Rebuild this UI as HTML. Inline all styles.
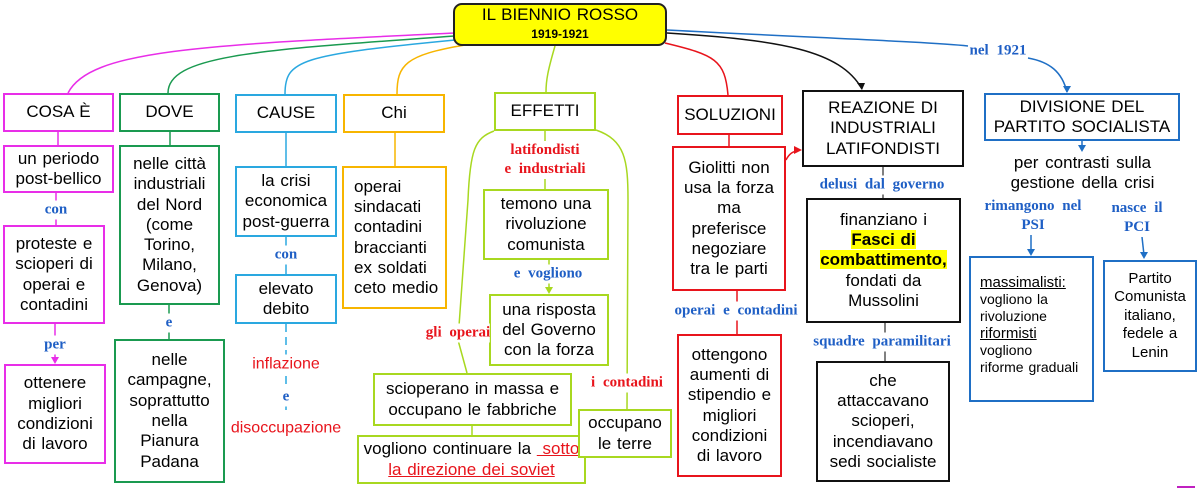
<!DOCTYPE html>
<html><head><meta charset="utf-8"><style>
body{margin:0;width:1200px;height:489px;background:#fff;position:relative;overflow:hidden;font-family:"Liberation Sans",sans-serif;}
.b{position:absolute;box-sizing:border-box;border:2px solid;background:#fff;display:flex;align-items:center;justify-content:center;text-align:center;font-size:17px;line-height:20.3px;color:#000;white-space:nowrap;word-spacing:1px}
.l{position:absolute;font-family:"Liberation Serif",serif;font-weight:bold;font-size:15px;white-space:nowrap;transform:translate(-50%,-50%);text-align:center;line-height:19px;background:#fff;word-spacing:4px}
.bl{color:#1f5fc5}.rd{color:#e8141c}
svg{position:absolute;left:0;top:0}
.m{border-color:#e82ee8}.g{border-color:#1a9a50}.c{border-color:#2aa8e0}.o{border-color:#f7b500}.y{border-color:#a8d820}.r{border-color:#e8141c}.k{border-color:#111}.u{border-color:#1f6fc5}
</style></head><body>
<svg width="1200" height="489" fill="none" stroke-width="1.5">
<path d="M455,33 C200,45 90,50 68,93" stroke="#e82ee8"/>
<path d="M455,36 C260,50 168,55 168,93" stroke="#1a9a50"/>
<path d="M455,40 C300,55 285,60 285,94" stroke="#2aa8e0"/>
<path d="M465,45 C405,55 397,65 397,94" stroke="#f7b500"/>
<path d="M555,46 C548,70 546,80 546,92" stroke="#a8d820"/>
<path d="M665,43 C715,55 725,60 728,95" stroke="#e8141c"/>
<path d="M667,33 C780,40 840,50 862,89" stroke="#111"/>
<path d="M862,90 l-5,-7 l8,0z" fill="#111" stroke="none"/>
<path d="M667,30 C820,38 930,42 968,46" stroke="#1f6fc5"/>
<path d="M1028,58 C1050,62 1062,72 1067,92" stroke="#1f6fc5"/>
<path d="M1067,93 l-4,-7 l8,0z" fill="#1f6fc5" stroke="none"/>
<g stroke="#e82ee8"><line x1="58" y1="132" x2="58" y2="145"/><line x1="56" y1="193" x2="56" y2="225"/><line x1="55" y1="324" x2="55" y2="360"/></g>
<path d="M55,364 l-4,-7 l8,0z" fill="#e82ee8"/>
<g stroke="#1a9a50"><line x1="170" y1="132" x2="170" y2="145"/><line x1="169" y1="305" x2="169" y2="339"/></g>
<g stroke="#2aa8e0"><line x1="286" y1="133" x2="286" y2="166"/><line x1="286" y1="237" x2="286" y2="274"/><line x1="286" y1="324" x2="286" y2="415" stroke-dasharray="8,5"/></g>
<line x1="395" y1="133" x2="395" y2="166" stroke="#f7b500"/>
<g stroke="#a8d820"><line x1="545" y1="131" x2="545" y2="189"/><line x1="549" y1="260" x2="549" y2="290"/>
<path d="M494,131 C475,138 470,150 468,200 L458,340 L467,373"/><path d="M596,130 C625,140 628,160 628,200 L627,409"/>
<line x1="472" y1="426" x2="472" y2="435"/></g>
<path d="M549,294 l-4,-7 l8,0z" fill="#a8d820"/>
<g stroke="#e8141c"><line x1="729" y1="135" x2="729" y2="146"/><line x1="737" y1="291" x2="737" y2="334"/><path d="M786,160 C790,152 795,151 798,151"/></g>
<path d="M802,150 l-8,-4 l0,8z" fill="#e8141c"/>
<g stroke="#555"><line x1="883" y1="167" x2="883" y2="198"/><line x1="885" y1="323" x2="885" y2="361"/></g>
<g stroke="#1f6fc5"><line x1="1082" y1="141" x2="1082" y2="148"/><line x1="1031" y1="235" x2="1031" y2="252"/><line x1="1142" y1="237" x2="1144" y2="255"/></g>
<path d="M1082,152 l-4,-7 l8,0z" fill="#1f6fc5"/>
<path d="M1031,256 l-4,-7 l8,0z" fill="#1f6fc5"/>
<path d="M1144,259 l-4,-7 l8,0z" fill="#1f6fc5"/>
<line x1="1177" y1="487" x2="1195" y2="487" stroke="#c020c0" stroke-width="2"/>
</svg>
<div class="b" style="left:453px;top:3px;width:214px;height:43px;background:#ffff00;border-color:#222;border-radius:9px"><div style="line-height:18px"><span style="font-size:17px">IL BIENNIO ROSSO</span><br><span style="font-size:12px;font-weight:bold">1919-1921</span></div></div>
<div class="b m" style="left:3px;top:93px;width:111px;height:39px"><div>COSA È</div></div>
<div class="b m" style="left:3px;top:145px;width:111px;height:48px"><div>un periodo<br>post-bellico</div></div>
<div class="b m" style="left:3px;top:225px;width:102px;height:99px"><div>proteste e<br>scioperi di<br>operai e<br>contadini</div></div>
<div class="b m" style="left:4px;top:364px;width:102px;height:100px"><div>ottenere<br>migliori<br>condizioni<br>di lavoro</div></div>
<div class="b g" style="left:119px;top:93px;width:101px;height:39px"><div>DOVE</div></div>
<div class="b g" style="left:119px;top:145px;width:101px;height:160px"><div>nelle città<br>industriali<br>del Nord<br>(come<br>Torino,<br>Milano,<br>Genova)</div></div>
<div class="b g" style="left:114px;top:339px;width:111px;height:144px"><div>nelle<br>campagne,<br>soprattutto<br>nella<br>Pianura<br>Padana</div></div>
<div class="b c" style="left:235px;top:94px;width:102px;height:39px"><div>CAUSE</div></div>
<div class="b c" style="left:235px;top:166px;width:102px;height:71px"><div>la crisi<br>economica<br>post-guerra</div></div>
<div class="b c" style="left:235px;top:274px;width:102px;height:50px"><div>elevato<br>debito</div></div>
<div class="b o" style="left:343px;top:94px;width:102px;height:39px"><div>Chi</div></div>
<div class="b o" style="left:342px;top:166px;width:105px;height:143px;justify-content:flex-start;padding-left:10px;text-align:left"><div>operai<br>sindacati<br>contadini<br>braccianti<br>ex soldati<br>ceto medio</div></div>
<div class="b y" style="left:494px;top:92px;width:102px;height:39px"><div>EFFETTI</div></div>
<div class="b y" style="left:483px;top:189px;width:126px;height:71px"><div>temono una<br>rivoluzione<br>comunista</div></div>
<div class="b y" style="left:489px;top:294px;width:120px;height:72px"><div>una risposta<br>del Governo<br>con la forza</div></div>
<div class="b y" style="left:373px;top:373px;width:199px;height:53px"><div>scioperano in massa e<br>occupano le fabbriche</div></div>
<div class="b y" style="left:357px;top:435px;width:229px;height:49px"><div>vogliono continuare la <span style="color:#e8141c;text-decoration:underline">&nbsp;sotto</span><br><span style="color:#e8141c;text-decoration:underline">la direzione dei soviet</span></div></div>
<div class="b y" style="left:578px;top:409px;width:94px;height:49px"><div>occupano<br>le terre</div></div>
<div class="b r" style="left:677px;top:95px;width:106px;height:40px"><div>SOLUZIONI</div></div>
<div class="b r" style="left:672px;top:146px;width:114px;height:145px"><div>Giolitti non<br>usa la forza<br>ma<br>preferisce<br>negoziare<br>tra le parti</div></div>
<div class="b r" style="left:677px;top:334px;width:105px;height:143px"><div>ottengono<br>aumenti di<br>stipendio e<br>migliori<br>condizioni<br>di lavoro</div></div>
<div class="b k" style="left:802px;top:90px;width:162px;height:77px"><div>REAZIONE DI<br>INDUSTRIALI<br>LATIFONDISTI</div></div>
<div class="b k" style="left:806px;top:198px;width:155px;height:125px"><div>finanziano i<br><b style="background:#ffff00">Fasci di</b><br><b style="background:#ffff00">combattimento,</b><br>fondati da<br>Mussolini</div></div>
<div class="b k" style="left:816px;top:361px;width:134px;height:121px"><div>che<br>attaccavano<br>scioperi,<br>incendiavano<br>sedi socialiste</div></div>
<div class="b u" style="left:984px;top:93px;width:196px;height:48px"><div>DIVISIONE DEL<br>PARTITO SOCIALISTA</div></div>
<div style="position:absolute;left:990px;top:153px;width:185px;text-align:center;font-size:17px;line-height:20px;word-spacing:2px">per contrasti sulla<br>gestione della crisi</div>
<div class="b u" style="left:969px;top:256px;width:125px;height:146px;display:block;text-align:left;padding:16px 0 0 9px;font-size:14px;line-height:17px;word-spacing:1px"><span style="text-decoration:underline;font-size:15px">massimalisti:</span><br>vogliono la<br>rivoluzione<br><span style="text-decoration:underline;font-size:15px">riformisti</span><br>vogliono<br>riforme graduali</div>
<div class="b u" style="left:1103px;top:260px;width:94px;height:112px"><div style="font-size:15px;line-height:18.5px">Partito<br>Comunista<br>italiano,<br>fedele a<br>Lenin</div></div>
<div class="l bl" style="left:56px;top:210px">con</div>
<div class="l bl" style="left:55px;top:345px">per</div>
<div class="l bl" style="left:169px;top:323px">e</div>
<div class="l bl" style="left:286px;top:255px">con</div>
<div class="l rd" style="left:286px;top:364px;font-family:'Liberation Sans',sans-serif;font-weight:normal;font-size:16px;word-spacing:0">inflazione</div>
<div class="l bl" style="left:286px;top:397px">e</div>
<div class="l rd" style="left:286px;top:428px;font-family:'Liberation Sans',sans-serif;font-weight:normal;font-size:16px;word-spacing:0">disoccupazione</div>
<div class="l rd" style="left:545px;top:160px">latifondisti<br>e industriali</div>
<div class="l bl" style="left:548px;top:274px">e vogliono</div>
<div class="l rd" style="left:458px;top:333px">gli operai</div>
<div class="l rd" style="left:627px;top:383px">i contadini</div>
<div class="l bl" style="left:736px;top:311px">operai e contadini</div>
<div class="l bl" style="left:882px;top:185px">delusi dal governo</div>
<div class="l bl" style="left:882px;top:342px">squadre paramilitari</div>
<div class="l bl" style="left:998px;top:51px">nel 1921</div>
<div class="l bl" style="left:1033px;top:216px">rimangono nel<br>PSI</div>
<div class="l bl" style="left:1137px;top:218px">nasce il<br>PCI</div>
</body></html>
